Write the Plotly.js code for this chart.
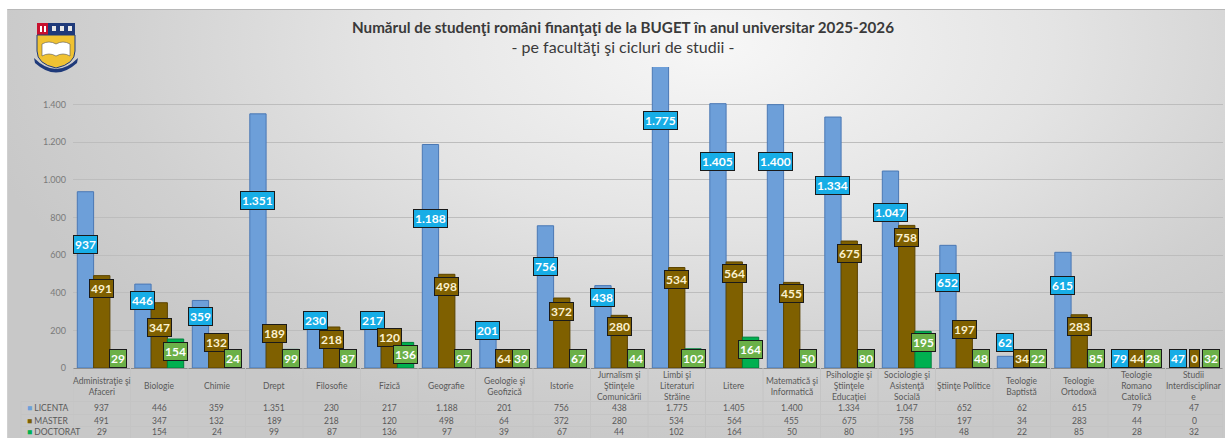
<!DOCTYPE html>
<html>
<head>
<meta charset="utf-8">
<script src="https://cdn.plot.ly/plotly-3.0.1.min.js"></script>
<style>
  html, body { margin: 0; padding: 0; background: #ffffff; width: 1225px; height: 438px; overflow: hidden; }
  #bg { position: absolute; left: 7px; top: 9px; width: 1218px; height: 429px;
        border-top: 1px solid #b8b8b8; border-left: 1px solid #d0d0d0; box-sizing: border-box;
        background: radial-gradient(ellipse 62% 95% at 58% 8%, #f7f7f7 0%, #e4e4e4 45%, #d0d0d0 80%, #c8c8c8 100%); }
  #chart { position: absolute; left: 0; top: 0; width: 1225px; height: 438px; }
  #logo { position: absolute; left: 33px; top: 22px; }
</style>
</head>
<body>
<div id="bg"></div>
<div id="chart"></div>
<svg id="logo" width="46" height="52" viewBox="0 0 46 52">
  <rect x="4" y="1" width="11" height="12" fill="#c8102e"/>
  <rect x="15" y="1" width="27" height="12" fill="#1f3a7a"/>
  <rect x="7" y="4" width="2" height="6" fill="#ffffff"/>
  <rect x="11" y="4" width="2" height="6" fill="#ffffff"/>
  <rect x="19" y="4" width="4" height="5" fill="#e8e8e8"/>
  <rect x="27" y="4" width="4" height="5" fill="#e8e8e8"/>
  <rect x="35" y="4" width="4" height="5" fill="#e8e8e8"/>
  <path d="M4 13 H42 V29 Q42 42 23 46 Q4 42 4 29 Z" fill="#f0c232" stroke="#1f3a7a" stroke-width="1"/>
  <path d="M9 22 Q16 18 23 22 Q30 18 37 22 V34 Q30 30 23 34 Q16 30 9 34 Z" fill="#ffffff" stroke="#555" stroke-width="0.6"/>
  <path d="M1 36 Q23 58 45 36 L44 41 Q23 60 2 41 Z" fill="#1f3a7a"/>
</svg>
<script>
// ---------- data ----------
const categories = [
  "Administraţie şi Afaceri", "Biologie", "Chimie", "Drept", "Filosofie", "Fizică",
  "Geografie", "Geologie şi Geofizică", "Istorie", "Jurnalism şi Ştiinţele Comunicării",
  "Limbi şi Literaturi Străine", "Litere", "Matematică şi Informatică",
  "Psihologie şi Ştiinţele Educaţiei", "Sociologie şi Asistenţă Socială", "Ştiinţe Politice",
  "Teologie Baptistă", "Teologie Ortodoxă", "Teologie Romano Catolică", "Studii Interdisciplinare"
];
const headerLabels = [
  "Administraţie şi<br>Afaceri", "Biologie", "Chimie", "Drept", "Filosofie", "Fizică",
  "Geografie", "Geologie şi<br>Geofizică", "Istorie", "Jurnalism şi<br>Ştiinţele<br>Comunicării",
  "Limbi şi<br>Literaturi<br>Străine", "Litere", "Matematică şi<br>Informatică",
  "Psihologie şi<br>Ştiinţele<br>Educaţiei", "Sociologie şi<br>Asistenţă<br>Socială", "Ştiinţe Politice",
  "Teologie<br>Baptistă", "Teologie<br>Ortodoxă", "Teologie<br>Romano<br>Catolică", "Studii<br>Interdisciplinar<br>e"
];
const seriesNames = ["LICENTA", "MASTER", "DOCTORAT"];
const licenta  = [937, 446, 359, 1351, 230, 217, 1188, 201, 756, 438, 1775, 1405, 1400, 1334, 1047, 652, 62, 615, 79, 47];
const master   = [491, 347, 132, 189, 218, 120, 498, 64, 372, 280, 534, 564, 455, 675, 758, 197, 34, 283, 44, 0];
const doctorat = [29, 154, 24, 99, 87, 136, 97, 39, 67, 44, 102, 164, 50, 80, 195, 48, 22, 85, 28, 32];
// manual data-label anchors (value units), as placed in the original chart
const licentaLabelAt  = [659, 361, 276, 888, 250, 250, 797, 197, 542, 377, 1313, 1100, 1100, 968, 829, 452, 133, 441, 53, 53];
const masterLabelAt   = [425, 213, 138, 186, 154, 160, 431, 53, 303, 218, 468, 500, 394, 611, 696, 207, 53, 218, 53, 53];
const doctoratLabelAt = [53, 90, 53, 53, 53, 74, 53, 53, 53, 53, 53, 101, 53, 53, 133, 53, 53, 53, 53, 53];
const yTickVals = [0, 200, 400, 600, 800, 1000, 1200, 1400, 1600];
const yTickText = ["0", "200", "400", "600", "800", "1.000", "1.200", "1.400", ""];

// ---------- helpers ----------
function fmt(v) { return String(v).replace(/\B(?=(\d{3})+(?!\d))/g, "."); }
const PLOT_BOTTOM = 368, PLOT_H = 301, LEFT = 73, PLOT_W = 1150;
function py(p) { return (PLOT_BOTTOM - p) / PLOT_H; }     // pixel row -> paper y
function px(p) { return (p - LEFT) / PLOT_W; }              // pixel col -> paper x

const font = "Lato, 'Open Sans', sans-serif";
const colors = {
  bar:   ["#6d9fd9", "#7f6000", "#00b050"],
  line:  ["#4a78b4", "#5a4300", "#00803a"],
  box:   ["#17ade6", "#7f6000", "#6bb048"],
  text:  ["#ffffff", "#fbf1cf", "#ffffff"]
};
const values = [licenta, master, doctorat];
const labelAt = [licentaLabelAt, masterLabelAt, doctoratLabelAt];

const traces = values.map((vals, s) => ({
  type: "bar", name: seriesNames[s], x: categories, y: vals,
  marker: { color: colors.bar[s], line: { color: colors.line[s], width: 1 } },
  hoverinfo: "none", showlegend: false
}));

const annotations = [];
const shifts = [-16.3, 0, 16.3];
values.forEach((vals, s) => {
  vals.forEach((v, i) => {
    annotations.push({
      x: categories[i], y: labelAt[s][i], xref: "x", yref: "y",
      text: "<b>" + fmt(v) + "</b>", showarrow: false, xshift: shifts[s],
      font: { family: font, size: 12, color: colors.text[s] },
      bgcolor: colors.box[s], bordercolor: "#1a1a1a", borderwidth: 1, borderpad: 1,
      xanchor: "center", yanchor: "middle"
    });
  });
});
// table header
headerLabels.forEach((h, i) => {
  annotations.push({
    x: categories[i], y: py(386), xref: "x", yref: "paper", text: h, showarrow: false,
    font: { family: font, size: 8.5, color: "#595959" }, xanchor: "center", yanchor: "middle"
  });
});
// table rows
const rowY = [408, 420.5, 432.5];
values.forEach((vals, s) => {
  vals.forEach((v, i) => {
    annotations.push({
      x: categories[i], y: py(rowY[s]), xref: "x", yref: "paper", text: fmt(v), showarrow: false,
      font: { family: font, size: 8.5, color: "#595959" }, xanchor: "center", yanchor: "middle"
    });
  });
  annotations.push({
    x: px(25), y: py(rowY[s]), xref: "paper", yref: "paper", showarrow: false,
    text: "<span style='color:" + colors.bar[s] + "'>■</span> " + seriesNames[s],
    font: { family: font, size: 8.5, color: "#595959" }, xanchor: "left", yanchor: "middle"
  });
});

// table grid lines
const shapes = [];
for (let k = 0; k <= categories.length; k++) {
  shapes.push({ type: "line", xref: "x", yref: "paper", x0: k - 0.5, x1: k - 0.5,
    y0: 0, y1: py(440), line: { color: "#c4c4c4", width: 1 } });
}
[401.5, 414.5, 426.5].forEach(r => {
  shapes.push({ type: "line", xref: "paper", yref: "paper", x0: px(21), x1: 1, y0: py(r), y1: py(r),
    line: { color: "#c4c4c4", width: 1 } });
});
shapes.push({ type: "line", xref: "paper", yref: "paper", x0: px(21), x1: px(21), y0: py(401.5), y1: py(440),
  line: { color: "#c4c4c4", width: 1 } });

const layout = {
  width: 1225, height: 438,
  margin: { l: LEFT, r: 2, t: 67, b: 70, pad: 0 },
  paper_bgcolor: "rgba(0,0,0,0)", plot_bgcolor: "rgba(0,0,0,0)",
  font: { family: font, color: "#404040" },
  title: {
    text: "<b>Numărul de studenţi români finanţaţi de la BUGET în anul universitar 2025-2026</b><br><span style='font-size:16px'>- pe facultăţi şi cicluri de studii -</span>",
    x: 623 / 1225, xanchor: "center", xref: "container",
    y: 1 - 33 / 438, yanchor: "top", yref: "container",
    font: { family: font, size: 15.2, color: "#3a3a3a" }
  },
  barmode: "group", bargap: 0.15, bargroupgap: 0,
  xaxis: { type: "category", range: [-0.5, categories.length - 0.5], showticklabels: false,
           showgrid: false, showline: true, linecolor: "#8c8c8c", linewidth: 1, ticks: "", fixedrange: true },
  yaxis: { range: [0, 1600], tickvals: yTickVals, ticktext: yTickText, showgrid: true,
           gridcolor: "#bdbdbd", gridwidth: 1, zeroline: false, showline: false, ticks: "",
           ticklabelstandoff: 6, tickfont: { family: font, size: 9, color: "#7a7a7a" }, fixedrange: true },
  annotations: annotations,
  shapes: shapes
};

Plotly.newPlot("chart", traces, layout, { displayModeBar: false, staticPlot: true });
</script>
</body>
</html>
